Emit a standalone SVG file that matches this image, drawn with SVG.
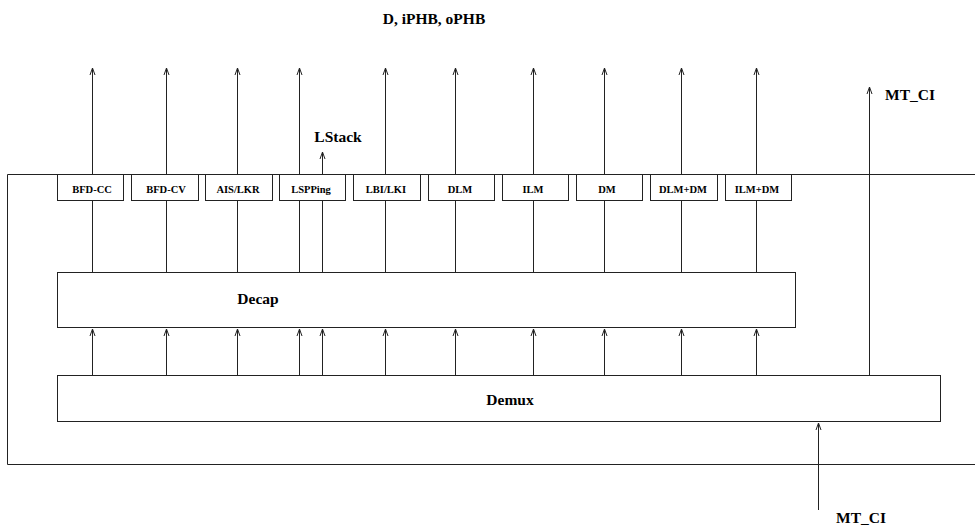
<svg xmlns="http://www.w3.org/2000/svg" width="975" height="532" viewBox="0 0 975 532">
<style>
.box{fill:#fff;stroke:#222;stroke-width:1}
.lbl{font-family:"Liberation Serif","Times New Roman",serif;font-size:10.5px;font-weight:bold;text-anchor:middle;fill:#000}
.big{font-family:"Liberation Serif","Times New Roman",serif;font-size:15.5px;font-weight:bold;fill:#000}
.ln{stroke:#222;stroke-width:1;fill:none}
</style>
<defs>
<marker id="ah" markerWidth="10" markerHeight="8" refX="8" refY="4" orient="auto" markerUnits="userSpaceOnUse" viewBox="0 0 10 8">
<path d="M1,1.5 L8,4 L1,6.5" fill="none" stroke="#222" stroke-width="1"/>
</marker>
</defs>
<rect width="975" height="532" fill="#fff"/>
<g id="outer"><path class="ln" d="M975,174.5 H7.5 V464.5 H975"/></g>
<g id="connectors">
<g class="ln" marker-end="url(#ah)">
<line x1="92.5" y1="272" x2="92.5" y2="68"/>
<line x1="166.5" y1="272" x2="166.5" y2="68"/>
<line x1="237.5" y1="272" x2="237.5" y2="68"/>
<line x1="299.5" y1="272" x2="299.5" y2="68"/>
<line x1="322.5" y1="272" x2="322.5" y2="152"/>
<line x1="385.5" y1="272" x2="385.5" y2="68"/>
<line x1="455.5" y1="272" x2="455.5" y2="68"/>
<line x1="533.5" y1="272" x2="533.5" y2="68"/>
<line x1="604.5" y1="272" x2="604.5" y2="68"/>
<line x1="681.5" y1="272" x2="681.5" y2="68"/>
<line x1="756.5" y1="272" x2="756.5" y2="68"/>
<line x1="869.5" y1="375" x2="869.5" y2="87"/>
</g>
<g class="ln" marker-end="url(#ah)">
<line x1="92.5" y1="375" x2="92.5" y2="329"/>
<line x1="166.5" y1="375" x2="166.5" y2="329"/>
<line x1="237.5" y1="375" x2="237.5" y2="329"/>
<line x1="299.5" y1="375" x2="299.5" y2="329"/>
<line x1="322.5" y1="375" x2="322.5" y2="329"/>
<line x1="385.5" y1="375" x2="385.5" y2="329"/>
<line x1="455.5" y1="375" x2="455.5" y2="329"/>
<line x1="533.5" y1="375" x2="533.5" y2="329"/>
<line x1="604.5" y1="375" x2="604.5" y2="329"/>
<line x1="681.5" y1="375" x2="681.5" y2="329"/>
<line x1="756.5" y1="375" x2="756.5" y2="329"/>
<line x1="818.5" y1="510" x2="818.5" y2="423"/>
</g>
</g>
<g id="bfd-cc"><rect class="box" x="57.5" y="174.5" width="66" height="26"/><text class="lbl" x="92" y="193">BFD-CC</text></g>
<g id="bfd-cv"><rect class="box" x="131.5" y="174.5" width="67" height="26"/><text class="lbl" x="166" y="193">BFD-CV</text></g>
<g id="ais-lkr"><rect class="box" x="205.5" y="174.5" width="67" height="26"/><text class="lbl" x="238" y="193">AIS/LKR</text></g>
<g id="lspping"><rect class="box" x="279.5" y="174.5" width="66" height="26"/><text class="lbl" x="311" y="193">LSPPing</text></g>
<g id="lbi-lki"><rect class="box" x="353.5" y="174.5" width="67" height="26"/><text class="lbl" x="386" y="193">LBI/LKI</text></g>
<g id="dlm"><rect class="box" x="428.5" y="174.5" width="66" height="26"/><text class="lbl" x="460" y="193">DLM</text></g>
<g id="ilm"><rect class="box" x="502.5" y="174.5" width="66" height="26"/><text class="lbl" x="533" y="193">ILM</text></g>
<g id="dm"><rect class="box" x="576.5" y="174.5" width="66" height="26"/><text class="lbl" x="607" y="193">DM</text></g>
<g id="dlm-dm"><rect class="box" x="650.5" y="174.5" width="67" height="26"/><text class="lbl" x="683" y="193">DLM+DM</text></g>
<g id="ilm-dm"><rect class="box" x="725.5" y="174.5" width="66" height="26"/><text class="lbl" x="757" y="193">ILM+DM</text></g>
<g id="decap"><rect class="box" x="57.5" y="272.5" width="738" height="55"/><text class="big" x="258" y="304" text-anchor="middle">Decap</text></g>
<g id="demux"><rect class="box" x="57.5" y="375.5" width="883" height="46"/><text class="big" x="510" y="405" text-anchor="middle">Demux</text></g>
<g id="labels">
<text class="big" x="434" y="24" text-anchor="middle">D, iPHB, oPHB</text>
<text class="big" x="338" y="142" text-anchor="middle">LStack</text>
<text class="big" x="885" y="100">MT_CI</text>
<text class="big" x="836" y="523">MT_CI</text>
</g>
</svg>
